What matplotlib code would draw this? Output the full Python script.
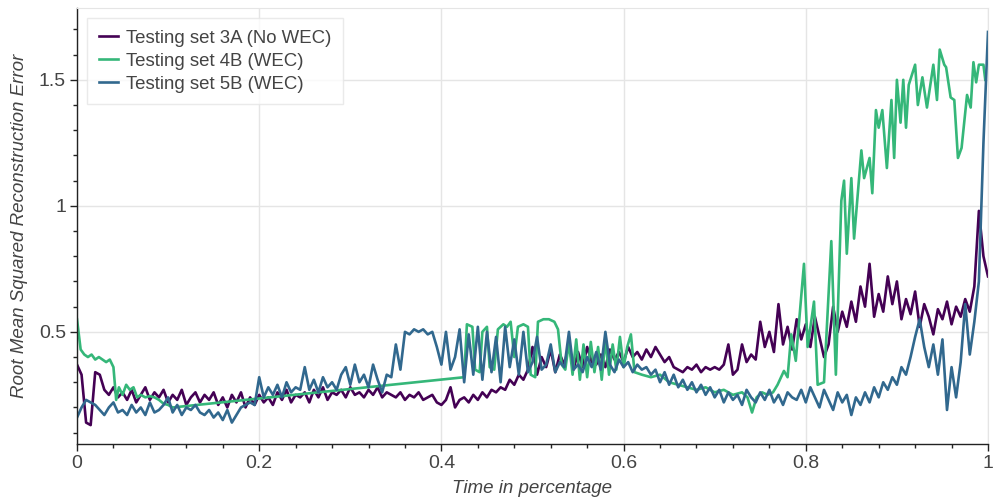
import numpy as np
import matplotlib
matplotlib.use('Agg')
import matplotlib.pyplot as plt
from matplotlib.ticker import MultipleLocator, FuncFormatter

plt.rcParams['font.family'] = ['Liberation Sans', 'DejaVu Sans']

# series values
labels = ['Testing set 3A (No WEC)', 'Testing set 4B (WEC)', 'Testing set 5B (WEC)']
colors = ['#440154', '#35b779', '#31688e']

# 3A and 5B are sampled every 0.005 of the run
y_3a = [0.37, 0.33, 0.14, 0.13, 0.34, 0.33, 0.27, 0.25, 0.28, 0.24,
        0.26, 0.23, 0.27, 0.22, 0.25, 0.28, 0.23, 0.26, 0.24, 0.27,
        0.22, 0.25, 0.23, 0.27, 0.21, 0.24, 0.26, 0.22, 0.25, 0.23,
        0.26, 0.21, 0.24, 0.20, 0.25, 0.22, 0.26, 0.20, 0.24, 0.21,
        0.25, 0.22, 0.24, 0.21, 0.26, 0.23, 0.27, 0.22, 0.25, 0.24,
        0.26, 0.22, 0.27, 0.24, 0.28, 0.23, 0.26, 0.25, 0.27, 0.24,
        0.28, 0.25, 0.26, 0.24, 0.27, 0.25, 0.28, 0.24, 0.26, 0.25,
        0.24, 0.26, 0.23, 0.25, 0.24, 0.26, 0.23, 0.24, 0.25, 0.22,
        0.21, 0.23, 0.28, 0.20, 0.23, 0.24, 0.22, 0.25, 0.23, 0.26,
        0.24, 0.27, 0.26, 0.28, 0.27, 0.31, 0.29, 0.33, 0.31, 0.35,
        0.44, 0.33, 0.40, 0.36, 0.43, 0.34, 0.41, 0.37, 0.45, 0.35,
        0.42, 0.36, 0.44, 0.38, 0.37, 0.41, 0.36, 0.43, 0.39, 0.42,
        0.38, 0.44, 0.40, 0.42, 0.39, 0.43, 0.40, 0.44, 0.41, 0.38,
        0.40, 0.36, 0.35, 0.34, 0.36, 0.35, 0.37, 0.34, 0.36, 0.35,
        0.36, 0.35, 0.37, 0.45, 0.33, 0.35, 0.45, 0.38, 0.41, 0.39,
        0.54, 0.44, 0.50, 0.42, 0.61, 0.45, 0.52, 0.43, 0.55, 0.47,
        0.53, 0.44, 0.56, 0.48, 0.40, 0.45, 0.60, 0.50, 0.58, 0.52,
        0.62, 0.54, 0.68, 0.60, 0.77, 0.56, 0.65, 0.58, 0.72, 0.61,
        0.70, 0.55, 0.63, 0.57, 0.66, 0.52, 0.61, 0.56, 0.49, 0.59,
        0.55, 0.62, 0.53, 0.60, 0.56, 0.63, 0.58, 0.68, 0.98, 0.80,
        0.72]

y_5b = [0.16, 0.20, 0.23, 0.22, 0.21, 0.19, 0.17, 0.20, 0.22, 0.18,
        0.19, 0.17, 0.21, 0.18, 0.20, 0.17, 0.22, 0.18, 0.19, 0.21,
        0.24, 0.18, 0.21, 0.17, 0.20, 0.19, 0.21, 0.18, 0.17, 0.19,
        0.16, 0.18, 0.15, 0.19, 0.14, 0.17, 0.20, 0.21, 0.22, 0.21,
        0.32, 0.24, 0.28, 0.25, 0.29, 0.24, 0.30, 0.26, 0.28, 0.27,
        0.36, 0.27, 0.31, 0.26, 0.32, 0.28, 0.30, 0.27, 0.33, 0.36,
        0.29, 0.37, 0.30, 0.33, 0.28, 0.37, 0.31, 0.26, 0.33, 0.32,
        0.45, 0.35, 0.50, 0.49, 0.51, 0.50, 0.51, 0.49, 0.50, 0.44,
        0.37, 0.50, 0.35, 0.40, 0.51, 0.30, 0.49, 0.33, 0.52, 0.31,
        0.50, 0.34, 0.48, 0.30, 0.52, 0.36, 0.47, 0.33, 0.50, 0.34,
        0.38, 0.48, 0.35, 0.37, 0.45, 0.34, 0.38, 0.36, 0.50, 0.35,
        0.37, 0.34, 0.40, 0.36, 0.42, 0.35, 0.50, 0.37, 0.34, 0.39,
        0.36, 0.38, 0.34, 0.37, 0.35, 0.36, 0.33, 0.35, 0.30, 0.34,
        0.29, 0.33, 0.28, 0.31, 0.27, 0.30, 0.26, 0.29, 0.25, 0.28,
        0.24, 0.27, 0.22, 0.26, 0.23, 0.25, 0.21, 0.27, 0.24, 0.22,
        0.26, 0.23, 0.27, 0.22, 0.25, 0.21, 0.26, 0.24, 0.23, 0.27,
        0.22, 0.28, 0.24, 0.20, 0.27, 0.23, 0.19, 0.26, 0.22, 0.25,
        0.17, 0.24, 0.21, 0.26, 0.22, 0.28, 0.24, 0.30, 0.27, 0.32,
        0.29, 0.36, 0.33, 0.40, 0.48, 0.55, 0.44, 0.36, 0.45, 0.33,
        0.47, 0.19, 0.36, 0.24, 0.38, 0.61, 0.41, 0.54, 0.70, 1.25,
        1.69]

# 4B has a gap in its samples, so its times are listed
x_4b = [0.000, 0.004, 0.008, 0.012, 0.016, 0.020, 0.024, 0.028, 0.032, 0.036,
        0.040, 0.043, 0.046, 0.050, 0.054, 0.058, 0.062, 0.066, 0.070, 0.075,
        0.080, 0.085, 0.090, 0.095, 0.100, 0.105,
        0.425, 0.428, 0.434, 0.437, 0.442, 0.445, 0.450, 0.453, 0.458, 0.462,
        0.468, 0.472, 0.476, 0.480, 0.484, 0.490, 0.495, 0.498, 0.503, 0.506,
        0.512, 0.518, 0.524, 0.528, 0.532, 0.536, 0.540, 0.544, 0.548, 0.552,
        0.556, 0.560, 0.564, 0.568, 0.572, 0.576, 0.580, 0.584, 0.588, 0.592,
        0.596, 0.600, 0.604, 0.608, 0.612, 0.620, 0.630, 0.640, 0.650, 0.660,
        0.670, 0.680, 0.690, 0.700, 0.710, 0.720, 0.730, 0.736, 0.741, 0.746,
        0.752, 0.758, 0.764, 0.769, 0.776, 0.780, 0.784, 0.789, 0.798, 0.802,
        0.809, 0.813, 0.820, 0.828, 0.833, 0.839, 0.842, 0.845, 0.850, 0.853,
        0.861, 0.864, 0.870, 0.873, 0.877, 0.880, 0.884, 0.889, 0.894, 0.897,
        0.900, 0.904, 0.907, 0.910, 0.913, 0.920, 0.923, 0.928, 0.933, 0.940,
        0.944, 0.947, 0.952, 0.954, 0.959, 0.963, 0.967, 0.971, 0.977, 0.981,
        0.984, 0.987, 0.990, 0.995, 0.997]
y_4b = [0.55, 0.43, 0.41, 0.40, 0.41, 0.39, 0.40, 0.39, 0.38, 0.39,
        0.36, 0.23, 0.28, 0.25, 0.29, 0.27, 0.28, 0.24, 0.25, 0.24,
        0.245, 0.24, 0.23, 0.215, 0.21, 0.20,
        0.32, 0.53, 0.52, 0.35, 0.34, 0.50, 0.52, 0.36, 0.35, 0.51,
        0.53, 0.52, 0.54, 0.40, 0.52, 0.53, 0.52, 0.33, 0.32, 0.54,
        0.55, 0.55, 0.54, 0.51, 0.37, 0.35, 0.46, 0.33, 0.47, 0.31,
        0.45, 0.32, 0.46, 0.34, 0.44, 0.31, 0.47, 0.33, 0.45, 0.35,
        0.48, 0.36, 0.44, 0.49, 0.34, 0.33, 0.32, 0.33, 0.30, 0.29,
        0.28, 0.27, 0.28, 0.26, 0.27, 0.25, 0.26, 0.24, 0.18, 0.24,
        0.26, 0.25, 0.26, 0.29, 0.345, 0.32, 0.49, 0.385, 0.77, 0.44,
        0.62, 0.29, 0.30, 0.86, 0.33, 1.02, 1.10, 0.81, 1.11, 0.87,
        1.22, 1.11, 1.19, 1.05, 1.38, 1.31, 1.38, 1.15, 1.42, 1.19,
        1.50, 1.33, 1.50, 1.31, 1.48, 1.56, 1.40, 1.51, 1.39, 1.56,
        1.42, 1.62, 1.56, 1.55, 1.43, 1.42, 1.19, 1.23, 1.44, 1.39,
        1.57, 1.49, 1.56, 1.56, 1.50]

x_grid = np.linspace(0, 1, len(y_3a))

fig = plt.figure(figsize=(9.97, 5.04), dpi=100)
ax = fig.add_axes([77/997, 60/504, 911/997, 436/504])

ax.plot(x_grid, y_3a, color=colors[0], lw=1.9, label=labels[0])
ax.plot(x_4b, y_4b, color=colors[1], lw=1.9, label=labels[1])
ax.plot(x_grid, y_5b, color=colors[2], lw=1.9, label=labels[2])

ax.set_xlim(0, 1)
ax.set_ylim(0.055, 1.785)

ax.xaxis.set_major_locator(MultipleLocator(0.2))
ax.xaxis.set_minor_locator(MultipleLocator(0.04))
ax.yaxis.set_major_locator(MultipleLocator(0.5))
ax.yaxis.set_minor_locator(MultipleLocator(0.1))
fmt = FuncFormatter(lambda v, p: ('%g' % round(v, 3)))
ax.xaxis.set_major_formatter(fmt)
ax.yaxis.set_major_formatter(fmt)

ax.grid(True, which='major', color='#e5e5e5', lw=1)
ax.set_axisbelow(True)
for s in ['top', 'right']:
    ax.spines[s].set_color('#e5e5e5')
for s in ['left', 'bottom']:
    ax.spines[s].set_color('#222222')
    ax.spines[s].set_linewidth(1.0)

ax.tick_params(which='major', direction='out', length=5, width=1, color='#222222',
               labelsize=14, labelcolor='#444444', pad=3)
ax.tick_params(which='minor', direction='out', length=3, width=1, color='#222222')

ax.set_xlabel('Time in percentage', fontsize=13.5, style='italic', color='#444444', labelpad=6)
ax.set_ylabel('Root Mean Squared Reconstruction Error', fontsize=13.5, style='italic',
              color='#444444', labelpad=8)

leg = ax.legend(loc='upper left', bbox_to_anchor=(0.011, 0.977), borderaxespad=0,
                fontsize=13.4, frameon=True, fancybox=False, handlelength=1.07,
                handletextpad=0.4, labelspacing=0.33, borderpad=0.62)
leg.get_frame().set_edgecolor('#e5e5e5')
leg.get_frame().set_linewidth(1)
for t in leg.get_texts():
    t.set_color('#444444')

fig.savefig('out.png', dpi=100)
